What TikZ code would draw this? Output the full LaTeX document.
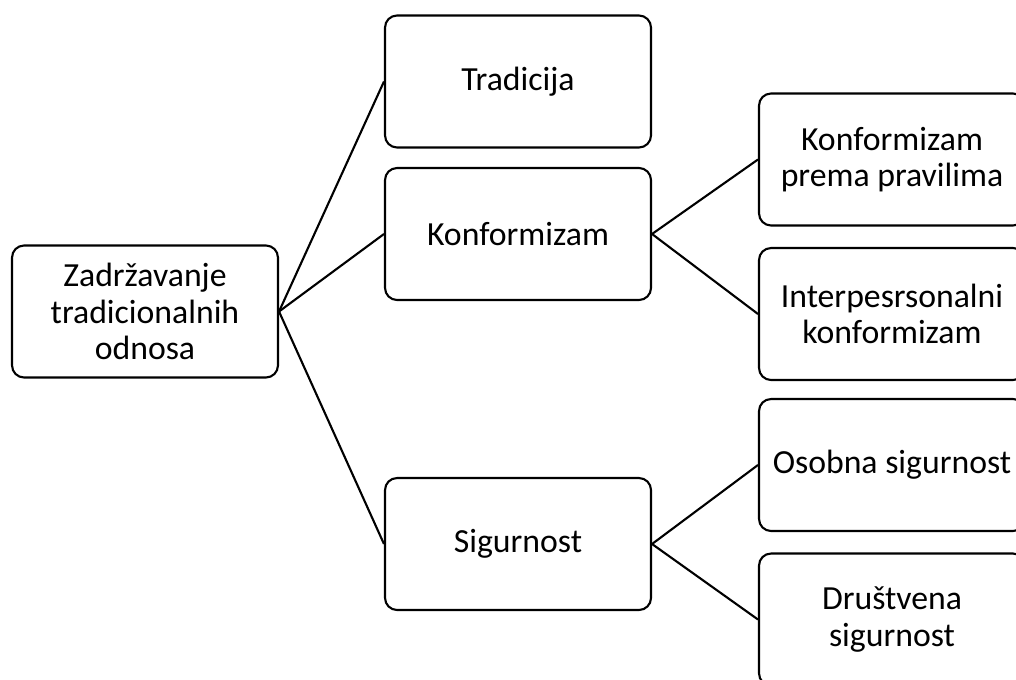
\documentclass[tikz,border=0pt]{standalone}
\usepackage{fontspec}
\setmainfont{Carlito}
\usepackage{tikz}
\usetikzlibrary{positioning}

\begin{document}
\begin{tikzpicture}[x=0.02cm, y=-0.02cm, line width=1.2pt,
    box/.style={draw, rounded corners=0.24cm, fill=white, align=center,
        minimum width=5.32cm, minimum height=2.64cm, inner sep=0pt,
        font=\fontsize{19.2}{20.8}\selectfont}]
    \useasboundingbox (0,0) rectangle (1016,679);
    % korijen
    \node[box] (root) at (145,311.5) {Zadržavanje\\tradicionalnih\\odnosa};
    % srednji stupac
    \node[box] (trad) at (518,81.5) {Tradicija};
    \node[box] (konf) at (518,234) {Konformizam};
    \node[box] (sig) at (518,544) {Sigurnost};
    % desni stupac
    \node[box] (konfpr) at (892,159.5) {Konformizam\\prema pravilima};
    \node[box] (inter) at (892,314) {Interpesrsonalni\\konformizam};
    \node[box] (osob) at (892,465) {Osobna sigurnost};
    \node[box] (drus) at (892,619.5) {Društvena\\sigurnost};
    % veze
    \foreach \n in {trad,konf,sig} {
        \draw (root.east) -- (\n.west);
    }
    \draw (konf.east) -- (konfpr.west);
    \draw (konf.east) -- (inter.west);
    \draw (sig.east) -- (osob.west);
    \draw (sig.east) -- (drus.west);
\end{tikzpicture}
\end{document}
